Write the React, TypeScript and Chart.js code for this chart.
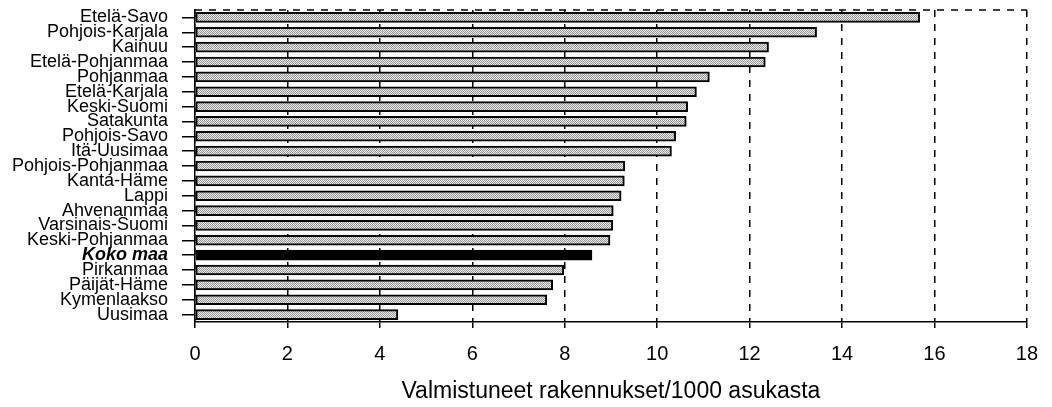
import React, { useEffect, useRef } from "react";
import { Chart, registerables } from "chart.js";

Chart.register(...registerables);

const categories = [
  "Etelä-Savo",
  "Pohjois-Karjala",
  "Kainuu",
  "Etelä-Pohjanmaa",
  "Pohjanmaa",
  "Etelä-Karjala",
  "Keski-Suomi",
  "Satakunta",
  "Pohjois-Savo",
  "Itä-Uusimaa",
  "Pohjois-Pohjanmaa",
  "Kanta-Häme",
  "Lappi",
  "Ahvenanmaa",
  "Varsinais-Suomi",
  "Keski-Pohjanmaa",
  "Koko maa",
  "Pirkanmaa",
  "Päijät-Häme",
  "Kymenlaakso",
  "Uusimaa",
];

const values = [
  15.68, 13.45, 12.41, 12.34, 11.13, 10.85, 10.66, 10.63, 10.4, 10.31, 9.3,
  9.29, 9.22, 9.05, 9.04, 8.98, 8.59, 7.98, 7.74, 7.61, 4.39,
];

const highlightCategory = "Koko maa";
const xMin = 0;
const xMax = 18;
const xStep = 2;
const axisTitle = "Valmistuneet rakennukset/1000 asukasta";

const FONT = "'Liberation Sans', Arial, sans-serif";

export default function App() {
  const canvasRef = useRef<HTMLCanvasElement | null>(null);

  useEffect(() => {
    document.body.style.margin = "0";
    const canvas = canvasRef.current;
    if (!canvas) return;
    const ctx = canvas.getContext("2d");
    if (!ctx) return;

    // stippled gray fill
    const pc = document.createElement("canvas");
    pc.width = 2;
    pc.height = 2;
    const pctx = pc.getContext("2d")!;
    pctx.fillStyle = "#e8e8e8";
    pctx.fillRect(0, 0, 2, 2);
    pctx.fillStyle = "#999999";
    pctx.fillRect(0, 0, 1, 1);
    pctx.fillRect(1, 1, 1, 1);
    const pattern = ctx.createPattern(pc, "repeat");

    const bg = categories.map((c) => (c === highlightCategory ? "#000" : pattern));

    const topBorder = {
      id: "topBorder",
      beforeDatasetsDraw(chart: any) {
        const { ctx: c, chartArea } = chart;
        c.save();
        c.strokeStyle = "#000";
        c.lineWidth = 1.5;
        c.setLineDash([7, 7]);
        c.beginPath();
        c.moveTo(chartArea.left, chartArea.top);
        c.lineTo(chartArea.right, chartArea.top);
        c.stroke();
        c.restore();
      },
    };

    const chart = new Chart(ctx, {
      type: "bar",
      data: {
        labels: categories,
        datasets: [
          {
            data: values,
            backgroundColor: bg as any,
            borderColor: "#000",
            borderWidth: 2,
            borderSkipped: false,
            barThickness: 10,
          },
        ],
      },
      options: {
        indexAxis: "y",
        animation: false,
        responsive: false,
        layout: { padding: { top: 10, right: 18, bottom: 0, left: 0 } },
        plugins: {
          legend: { display: false },
          tooltip: { enabled: false },
        },
        scales: {
          y: {
            type: "category",
            afterFit: (scale: any) => {
              scale.width = 195;
              scale.paddingTop = 0;
              scale.paddingBottom = 0;
            },
            grid: {
              drawOnChartArea: false,
              drawTicks: true,
              tickLength: 13,
              offset: false,
              color: "#000",
              lineWidth: 1.5,
            },
            border: { display: true, color: "#000", width: 1.5 },
            ticks: {
              autoSkip: false,
              padding: 14,
              color: "#000",
              font: (c: any) => {
                const lbl = categories[c.index];
                return lbl === highlightCategory
                  ? { family: FONT, size: 18, weight: "bold", style: "italic" }
                  : { family: FONT, size: 18 };
              },
            },
          },
          x: {
            type: "linear",
            min: xMin,
            max: xMax,
            afterFit: (scale: any) => {
              scale.paddingLeft = 0;
              scale.height = 85;
            },
            grid: {
              color: "#000",
              lineWidth: 1.5,
              tickLength: 6,
              tickBorderDash: [],
            },
            border: { display: true, color: "#000", width: 1.5, dash: [7, 7] },
            ticks: {
              stepSize: xStep,
              padding: 14,
              color: "#000",
              font: { family: FONT, size: 20 },
            },
            title: {
              display: true,
              text: axisTitle,
              color: "#000",
              font: { family: FONT, size: 23 },
              padding: { top: 12, bottom: 2 },
            },
          },
        },
      },
      plugins: [topBorder],
    });

    return () => chart.destroy();
  }, []);

  return <canvas ref={canvasRef} width={1052} height={407} />;
}
